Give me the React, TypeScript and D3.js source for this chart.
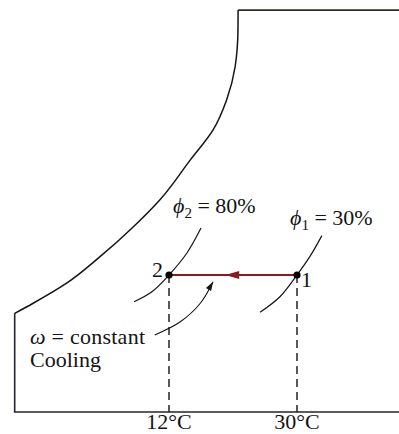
import React from 'react';
import * as d3 from 'd3';

const W = 399;
const H = 434;

// two states of the cooling process: dry-bulb temperature (°C), constant humidity ratio (g/kg)
const stateLabels = ['2', '1'];
const stateTemps = [12, 30];
const stateOmega = 8;
const tempTickLabels = ['12°C', '30°C'];

// relative humidity labels
const rhSubs = ['2', '1'];
const rhValues = ['80%', '30%'];

// saturation curve (T in °C, ω in g/kg, schematic)
const satT = [-9.7, -7.1, -2.4, 2.3, 7.0, 10.7, 15.0, 18.2, 20.1, 21.3, 21.7, 21.72];
const satW = [5.76, 6.35, 7.52, 9.07, 10.82, 12.38, 14.72, 16.47, 18.22, 20.16, 22.31, 23.47];

// short pieces of the constant-φ lines through the states
const rh80T = [7.1, 9.6, 12, 14.5, 16.5];
const rh80W = [6.44, 7.02, 8, 9.27, 10.74];
const rh30T = [24.8, 27.6, 30, 31.8, 33.5];
const rh30W = [5.82, 6.73, 8, 9.07, 10.3];

// leader from the "ω = constant" note to the process line
const leaderT = [10.0, 13.6, 16.4, 18.2];
const leaderW = [4.5, 5.27, 6.35, 7.61];

const arrowTipT = 19.9;

const ink = '#141414';
const red = '#8e1b1b';
const font = '"Liberation Serif", "Times New Roman", serif';

export default function App() {
  const x = d3.scaleLinear().domain([12, 30]).range([169, 297]);
  const y = d3.scaleLinear().domain([0, 8]).range([412, 275]);

  const curve = d3
    .line<[number, number]>()
    .x(d => x(d[0]))
    .y(d => y(d[1]))
    .curve(d3.curveMonotoneY);
  const smooth = d3
    .line<[number, number]>()
    .x(d => x(d[0]))
    .y(d => y(d[1]))
    .curve(d3.curveCatmullRom.alpha(0.5));
  const straight = d3
    .line<[number, number]>()
    .x(d => x(d[0]))
    .y(d => y(d[1]));

  const zip = (a: number[], b: number[]) => a.map((v, i) => [v, b[i]] as [number, number]);
  const sat = zip(satT, satW);
  const satTop = sat[sat.length - 1];
  const satBottom = sat[0];
  const xRight = x.invert(W);

  const frameBottom = straight([
    satBottom,
    [satBottom[0], 0],
    [xRight, 0],
  ]);
  const frameTop = straight([satTop, [xRight, satTop[1]]]);

  // red process arrowhead, pointing left
  const tipX = x(arrowTipT);
  const yy = y(stateOmega);
  const redHead = `M${tipX},${yy} L${tipX + 14},${yy - 4} L${tipX + 14},${yy + 4} Z`;

  // leader arrowhead
  const lead = zip(leaderT, leaderW);
  const [pT, pW] = lead[lead.length - 2];
  const [eT, eW] = lead[lead.length - 1];
  const ex = x(eT);
  const ey = y(eW);
  const ang = Math.atan2(ey - y(pW), ex - x(pT));
  const hl = 9;
  const hw = 3;
  const bx = ex - hl * Math.cos(ang);
  const by = ey - hl * Math.sin(ang);
  const leadHead = `M${ex},${ey} L${bx + hw * Math.sin(ang)},${by - hw * Math.cos(ang)} L${bx - hw * Math.sin(ang)},${by + hw * Math.cos(ang)} Z`;

  const fs = 22;

  return (
    <svg
      width={W}
      height={H}
      style={{ position: 'absolute', left: 0, top: 0, background: '#fff' }}
      fontFamily={font}
    >
      {/* chart frame and saturation curve */}
      <path d={frameTop ?? ''} fill="none" stroke="#2a3320" strokeWidth={1.6} />
      <path d={curve(sat) ?? ''} fill="none" stroke={ink} strokeWidth={1.5} />
      <path d={frameBottom ?? ''} fill="none" stroke="#2a2230" strokeWidth={1.6} />

      {/* constant relative humidity lines */}
      <path d={smooth(zip(rh80T, rh80W)) ?? ''} fill="none" stroke={ink} strokeWidth={1.2} />
      <path d={smooth(zip(rh30T, rh30W)) ?? ''} fill="none" stroke={ink} strokeWidth={1.2} />

      {/* dashed drops to the temperature axis */}
      {stateTemps.map(t => (
        <line
          key={t}
          x1={x(t)}
          x2={x(t)}
          y1={y(stateOmega)}
          y2={y(0)}
          stroke={ink}
          strokeWidth={1.4}
          strokeDasharray="8,5"
        />
      ))}

      {/* process line */}
      <line
        x1={x(stateTemps[1])}
        x2={x(stateTemps[0])}
        y1={y(stateOmega)}
        y2={y(stateOmega)}
        stroke={red}
        strokeWidth={2.2}
      />
      <path d={redHead} fill={red} />

      {stateTemps.map(t => (
        <circle key={t} cx={x(t)} cy={y(stateOmega)} r={3.6} fill="#000" />
      ))}

      {/* state labels */}
      <text x={x(stateTemps[0]) - 6} y={y(stateOmega) + 2} fontSize={fs} textAnchor="end" fill={ink}>
        {stateLabels[0]}
      </text>
      <text x={x(stateTemps[1]) + 4} y={y(stateOmega) + 12} fontSize={fs} fill={ink}>
        {stateLabels[1]}
      </text>

      {/* ϕ labels */}
      <text x={173} y={213} fontSize={fs} fill={ink}>
        <tspan fontStyle="italic">ϕ</tspan>
        <tspan fontSize={15} dy={5}>{rhSubs[0]}</tspan>
        <tspan dy={-5}>{` = ${rhValues[0]}`}</tspan>
      </text>
      <text x={290} y={225} fontSize={fs} fill={ink}>
        <tspan fontStyle="italic">ϕ</tspan>
        <tspan fontSize={15} dy={5}>{rhSubs[1]}</tspan>
        <tspan dy={-5}>{` = ${rhValues[1]}`}</tspan>
      </text>

      {/* note and leader */}
      <path d={smooth(lead) ?? ''} fill="none" stroke={ink} strokeWidth={1.1} />
      <path d={leadHead} fill={ink} />
      <text x={30} y={344} fontSize={fs} fill={ink} textLength={115} lengthAdjust="spacing">
        <tspan fontStyle="italic">ω</tspan>
        <tspan>{' = constant'}</tspan>
      </text>
      <text x={30} y={367} fontSize={fs} fill={ink}>
        Cooling
      </text>

      {/* temperature labels */}
      {stateTemps.map((t, i) => (
        <text key={t} x={x(t)} y={429} fontSize={fs} textAnchor="middle" fill={ink}>
          {tempTickLabels[i]}
        </text>
      ))}
    </svg>
  );
}
